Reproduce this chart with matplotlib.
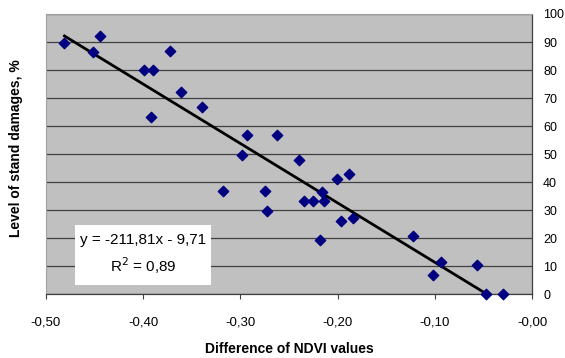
import numpy as np
import matplotlib
matplotlib.use('Agg')
import matplotlib.pyplot as plt
from matplotlib.ticker import FuncFormatter

plt.rcParams['font.family'] = ['Liberation Sans', 'DejaVu Sans']

# NDVI difference vs stand damage (%)
ndvi_diff = [-0.481, -0.452, -0.444, -0.399, -0.390, -0.372, -0.361, -0.392, -0.339,
             -0.293, -0.262, -0.298, -0.240, -0.318, -0.275, -0.273, -0.201, -0.188,
             -0.216, -0.235, -0.225, -0.214, -0.196, -0.184, -0.218, -0.122, -0.094,
             -0.102, -0.057, -0.047, -0.030]
damage = [89.5, 86.5, 92.1, 80.2, 80.0, 86.7, 72.3, 63.2, 66.8,
          56.8, 56.8, 49.9, 48.0, 36.9, 36.9, 29.8, 41.3, 42.9,
          36.5, 33.3, 33.3, 33.3, 26.3, 27.3, 19.5, 21.0, 11.5,
          6.9, 10.4, 0.0, 0.0]
slope = -211.81
intercept = -9.71
r2 = 0.89

fig = plt.figure(figsize=(5.65, 3.58), dpi=100)
ax = fig.add_axes([0.0814, 0.1774, 0.8602, 0.7835])
ax.set_facecolor('#c0c0c0')

xs = np.sort(np.array(ndvi_diff))
ax.plot(xs, slope * xs + intercept, color='black', lw=2.0, zorder=3)
ax.scatter(ndvi_diff, damage, marker='D', s=28, color='#000080', zorder=4, clip_on=False)

ax.set_xlim(-0.5, 0.0)
ax.set_ylim(0, 100)
ax.set_xticks(np.arange(-0.5, 0.01, 0.1))
ax.set_yticks(range(0, 101, 10))
ax.xaxis.set_major_formatter(FuncFormatter(lambda v, p: f'{v:.2f}'.replace('.', ',')))
ax.yaxis.tick_right()
ax.tick_params(axis='y', length=0, pad=8, labelsize=9)
ax.tick_params(axis='x', length=3.5, width=0.8, pad=12, labelsize=9.5, color='#404040')
ax.grid(axis='y', color='#404040', lw=0.9)
ax.set_axisbelow(True)

for side in ['top', 'left']:
    ax.spines[side].set_color('#a0a0a0')
    ax.spines[side].set_linewidth(0.8)
for side in ['bottom', 'right']:
    ax.spines[side].set_color('#404040')
    ax.spines[side].set_linewidth(0.9)

fig.text(16 / 565, 1 - 148 / 358, 'Level of stand damages, %', rotation=90,
         ha='center', va='center', fontsize=10, fontweight='bold')
fig.text(289 / 565, 1 - 349 / 358, 'Difference of NDVI values',
         ha='center', va='center', fontsize=10, fontweight='bold')

eq = f'y = {slope:.2f}x - {abs(intercept):.2f}'.replace('.', ',')
r2txt = f'R$^2$ = {r2:.2f}'.replace('.', ',')
fig.patches.append(plt.Rectangle((75 / 565, 1 - 285 / 358), 136 / 565, 60 / 358,
                                 transform=fig.transFigure, facecolor='white',
                                 edgecolor='none', zorder=5))
fig.text(143 / 565, 1 - 240 / 358, eq, ha='center', va='center', fontsize=11, zorder=6)
fig.text(143 / 565, 1 - 266 / 358, r2txt, ha='center', va='center', fontsize=11, zorder=6)

fig.savefig('out.png', dpi=100)
